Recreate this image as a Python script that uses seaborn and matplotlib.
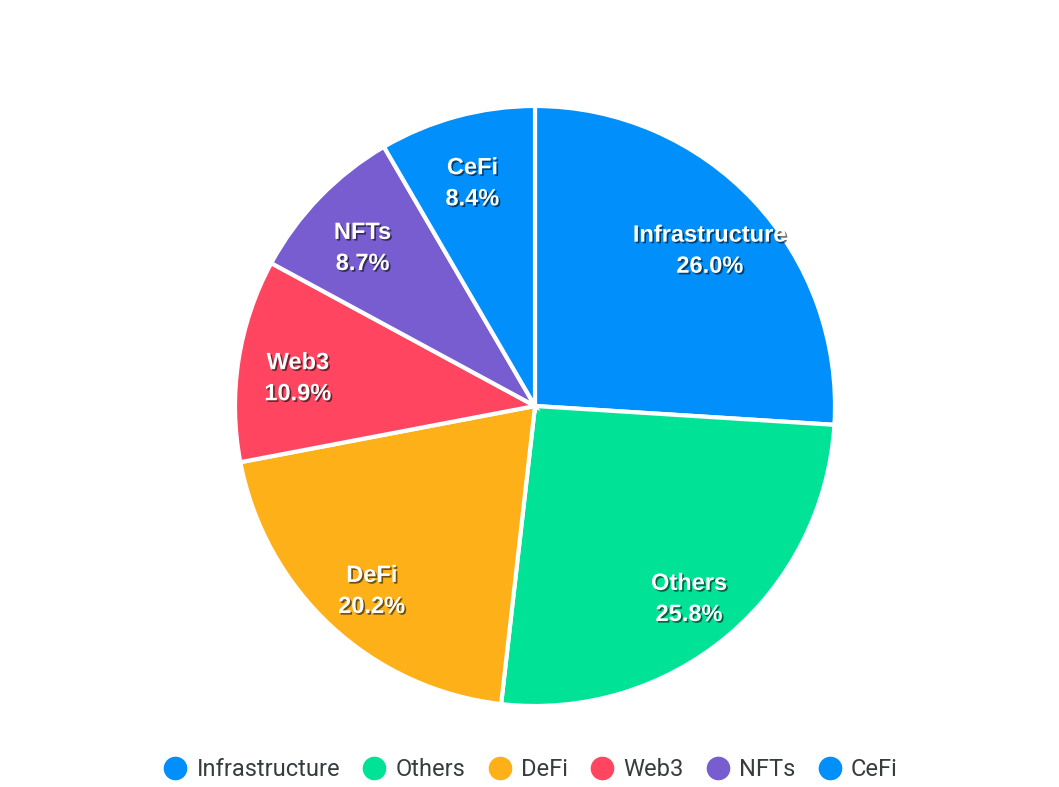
import matplotlib
matplotlib.use("Agg")
import matplotlib.pyplot as plt
import matplotlib.patheffects as pe
from matplotlib.lines import Line2D
import numpy as np
import seaborn as sns

categories = ["Infrastructure", "Others", "DeFi", "Web3", "NFTs", "CeFi"]
values = [26.0, 25.8, 20.2, 10.9, 8.7, 8.4]
hex_colors = ["#008FFB", "#00E396", "#FEB019", "#FF4560", "#775DD0", "#008FFB"]

sns.set_theme(style="white")
plt.rcParams["font.family"] = ["Liberation Sans", "DejaVu Sans"]
colors = sns.color_palette(hex_colors)

W, H = 1059, 787
fig = plt.figure(figsize=(W / 100, H / 100), dpi=100)
fig.patch.set_facecolor("white")
cx, cy, R = 535, 406, 300
ax = fig.add_axes([(cx - R) / W, (H - cy - R) / H, 2 * R / W, 2 * R / H])

wedges, texts = ax.pie(values, colors=colors, startangle=90, counterclock=False,
                       wedgeprops=dict(edgecolor="white", linewidth=3))
ax.set_xlim(-1, 1)
ax.set_ylim(-1, 1)
ax.set_aspect("equal")
ax.axis("off")

cum = np.cumsum([0] + values)
total = sum(values)
for i, (cat, v) in enumerate(zip(categories, values)):
    mid = (cum[i] + v / 2) / total * 2 * np.pi
    r = 0.80
    x = r * np.sin(mid)
    y = r * np.cos(mid) - 0.03
    ax.text(x, y, f"{cat}\n{v:.1f}%", ha="center", va="center", color="white",
            fontsize=17, fontweight="bold", linespacing=1.45,
            path_effects=[pe.withSimplePatchShadow(offset=(1.2, -1.2), shadow_rgbFace="black", alpha=0.55)])

handles = [Line2D([0], [0], marker="o", linestyle="none", markersize=16,
                  markerfacecolor=c, markeredgecolor=c) for c in colors]
leg = fig.legend(handles, categories, loc="center", bbox_to_anchor=(0.5, (H - 770) / H),
                 ncol=6, frameon=False, fontsize=17, handletextpad=0.3, columnspacing=0.85,
                 handlelength=1.2)
for t in leg.get_texts():
    t.set_color("#373d3f")
    t.set_family(["Roboto", "DejaVu Sans"])

fig.savefig("out.png", dpi=100, facecolor="white")
